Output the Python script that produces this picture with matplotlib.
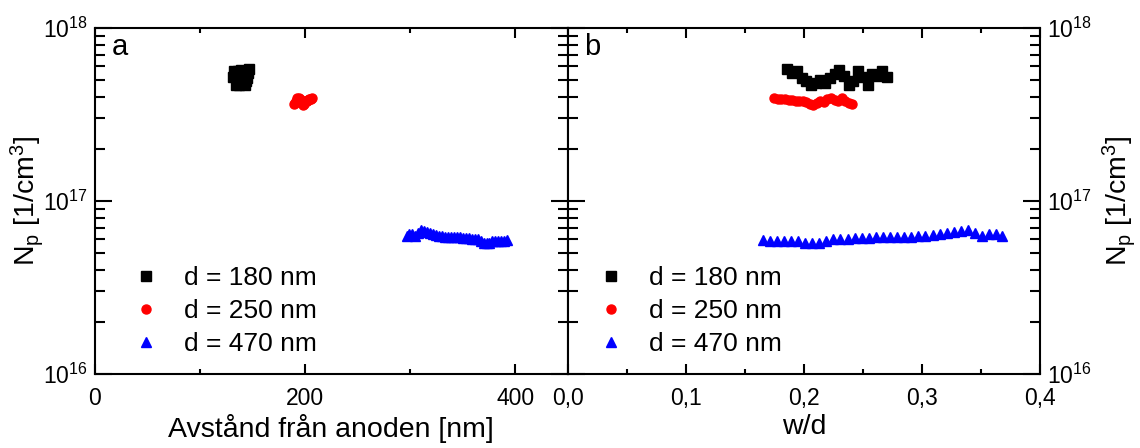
import numpy as np
import matplotlib
matplotlib.use("Agg")
import matplotlib.pyplot as plt
from matplotlib.ticker import LogLocator, MultipleLocator, FuncFormatter

plt.rcParams['font.family'] = ['Liberation Sans', 'DejaVu Sans']
plt.rcParams['mathtext.fontset'] = 'custom'
plt.rcParams['mathtext.rm'] = 'Liberation Sans'
plt.rcParams['mathtext.it'] = 'Liberation Sans:italic'

# sample thicknesses [nm]
d_values = [180, 250, 470]
labels = ['d = 180 nm', 'd = 250 nm', 'd = 470 nm']

# w/d and Np [1/cm3] for each sample
wd_180 = [0.186, 0.190, 0.194, 0.198, 0.202, 0.206, 0.210, 0.214, 0.218, 0.222, 0.226,
          0.230, 0.234, 0.238, 0.242, 0.246, 0.250, 0.254, 0.258, 0.262, 0.266, 0.270]
np_180 = [5.8, 5.5, 5.6, 5.1, 4.9, 4.7, 4.8, 5.0, 4.8, 5.1, 5.4,
          5.7, 5.3, 4.7, 4.9, 5.6, 5.2, 4.7, 5.4, 5.3, 5.6, 5.2]

wd_250 = [0.175, 0.178, 0.181, 0.184, 0.187, 0.190, 0.193, 0.196, 0.199, 0.202, 0.205, 0.208,
          0.211, 0.214, 0.217, 0.220, 0.223, 0.226, 0.229, 0.232, 0.235, 0.238, 0.241]
np_250 = [3.92, 3.90, 3.88, 3.87, 3.85, 3.84, 3.80, 3.80, 3.77, 3.72, 3.65, 3.60,
          3.68, 3.80, 3.72, 3.88, 3.95, 3.82, 3.78, 3.92, 3.80, 3.70, 3.65]

wd_470 = [0.165, 0.171, 0.177, 0.183, 0.189, 0.195, 0.201, 0.207, 0.213, 0.219, 0.225, 0.231,
          0.237, 0.243, 0.249, 0.255, 0.261, 0.267, 0.273, 0.279, 0.285, 0.291, 0.297, 0.303,
          0.309, 0.315, 0.321, 0.327, 0.333, 0.339, 0.345, 0.351, 0.357, 0.363, 0.368]
np_470 = [0.595, 0.59, 0.59, 0.59, 0.585, 0.585, 0.575, 0.57, 0.575, 0.59, 0.60, 0.605,
          0.605, 0.61, 0.61, 0.61, 0.615, 0.615, 0.62, 0.62, 0.615, 0.62, 0.625, 0.63,
          0.635, 0.645, 0.655, 0.66, 0.67, 0.675, 0.65, 0.63, 0.645, 0.64, 0.63]

series = [
    (d_values[0], np.array(wd_180), np.array(np_180) * 1e17, 's', 'black'),
    (d_values[1], np.array(wd_250), np.array(np_250) * 1e17, 'o', 'red'),
    (d_values[2], np.array(wd_470), np.array(np_470) * 1e17, '^', 'blue'),
]

fig = plt.figure(figsize=(11.4, 4.48), dpi=100)
ax_a = fig.add_axes([0.0833, 0.165, 0.4147, 0.773])
ax_b = fig.add_axes([0.498, 0.165, 0.4143, 0.773])

for (d, wd, npv, m, c), lab in zip(series, labels):
    # distance from the anode = d - w
    ax_a.plot(d * (1 - wd), npv, linestyle='none', marker=m, color=c, markersize=6.5, label=lab)
    ax_b.plot(wd, npv, linestyle='none', marker=m, color=c, markersize=6.5, label=lab)

for ax in (ax_a, ax_b):
    ax.set_yscale('log')
    ax.set_ylim(1e16, 1e18)
    ax.yaxis.set_major_locator(LogLocator(base=10, numticks=5))
    ax.yaxis.set_minor_locator(LogLocator(base=10, subs=np.arange(2, 10), numticks=20))
    ax.tick_params(which='both', direction='in', top=True, right=True, width=1.5, labelsize=16.5)
    ax.tick_params(axis='y', which='major', length=12, pad=5)
    ax.tick_params(axis='y', which='minor', length=7)
    ax.tick_params(axis='x', which='major', length=7, pad=9)
    ax.tick_params(axis='x', which='minor', length=3.6)
    for sp in ax.spines.values():
        sp.set_linewidth(1.5)
    ax.legend(loc='upper left', frameon=False, fontsize=19, handlelength=2.0,
              handletextpad=0.45, labelspacing=0.34, markerscale=1.0, borderaxespad=0,
              bbox_to_anchor=(0.03, 0.343) if ax is ax_a else (0.013, 0.343))

ax_a.set_xlim(0, 450)
ax_a.xaxis.set_major_locator(MultipleLocator(200))
ax_a.xaxis.set_minor_locator(MultipleLocator(100))
ax_a.set_xlabel('Avstånd från anoden [nm]', fontsize=20.5, labelpad=3)
ax_a.set_ylabel(r'N$_\mathregular{p}$ [1/cm$^\mathregular{3}$]', fontsize=20.5, labelpad=-2)
ax_a.text(0.035, 0.985, 'a', transform=ax_a.transAxes, fontsize=21, va='top')

ax_b.set_xlim(0, 0.4)
ax_b.xaxis.set_major_locator(MultipleLocator(0.1))
ax_b.xaxis.set_minor_locator(MultipleLocator(0.05))
ax_b.xaxis.set_major_formatter(FuncFormatter(lambda v, p: f'{v:.1f}'.replace('.', ',')))
ax_b.yaxis.tick_right()
ax_b.tick_params(which='both', left=True, right=True, labelleft=False, labelright=True)
ax_b.yaxis.set_label_position('right')
ax_b.set_ylabel(r'N$_\mathregular{p}$ [1/cm$^\mathregular{3}$]', fontsize=20.5, rotation=90, labelpad=6)
ax_b.set_xlabel('w/d', fontsize=20.5, labelpad=3)
ax_b.text(0.035, 0.985, 'b', transform=ax_b.transAxes, fontsize=21, va='top')

fig.savefig('out.png', dpi=100)
